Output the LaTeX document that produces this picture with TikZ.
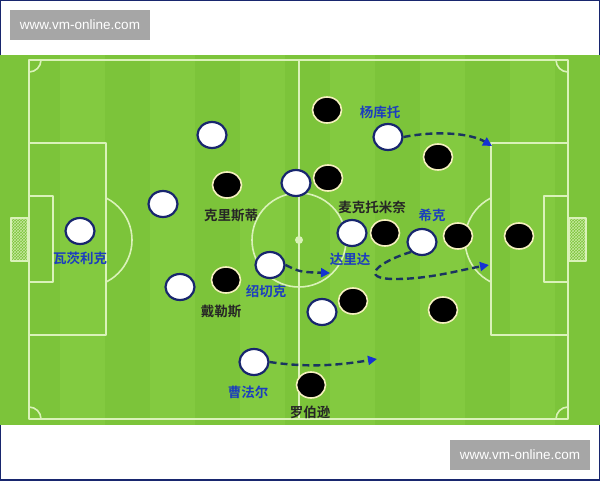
\documentclass[tikz,border=0pt]{standalone}
\usepackage{fontspec}
\newfontfamily\cjk[BoldFont={Noto Sans CJK SC Bold}]{Noto Sans CJK SC}
\newfontfamily\urlfont{Liberation Sans}
\usetikzlibrary{shapes.geometric,arrows.meta,patterns}
\definecolor{pitch}{RGB}{124,196,58}
\definecolor{stripe}{RGB}{131,202,64}
\definecolor{chalk}{RGB}{218,242,185}
\definecolor{navy}{RGB}{24,38,110}
\definecolor{runline}{RGB}{26,52,96}
\definecolor{tipblue}{RGB}{20,50,210}
\definecolor{namblue}{RGB}{28,62,190}
\definecolor{cream}{RGB}{245,240,190}
\definecolor{banner}{RGB}{166,166,166}
\begin{document}
\begin{tikzpicture}[x=1pt,y=-1pt,line join=round,line cap=round,
	white/.style={ellipse,fill=white,draw=navy,line width=2.2pt,minimum width=29pt,minimum height=26pt,inner sep=0pt},
	black/.style={ellipse,fill=black,draw=cream,line width=1.6pt,minimum width=29pt,minimum height=26pt,inner sep=0pt},
	blue name/.style={font=\cjk\bfseries\fontsize{13.5}{15}\selectfont,text=namblue,inner sep=0pt},
	dark name/.style={font=\cjk\bfseries\fontsize{13.5}{15}\selectfont,text=black!85,inner sep=0pt},
	run/.style={draw=runline,line width=2.4pt,dash pattern=on 7pt off 4pt,line cap=butt,
		-{Triangle[length=9pt,width=9pt,color=tipblue]}},
	chalkline/.style={draw=chalk,line width=1.6pt},
	url/.style={fill=banner,text=white,font=\urlfont\fontsize{13.5}{15}\selectfont,minimum width=140pt,minimum height=30pt,inner sep=0pt}]
	\useasboundingbox (0,0) rectangle (600,480);
	\fill[white] (0,0) rectangle (600,480);
	% grass
	\fill[pitch] (0,55) rectangle (600,425);
	\foreach \x in {60,150,240,330,420,510}
		\fill[stripe] (\x,55) rectangle (\x+45,425);
	% markings
	\draw[chalkline] (29,60) rectangle (568,419);
	\draw[chalkline] (299,60) -- (299,419);
	\draw[chalkline] (299,240) circle (47);
	\fill[chalk] (299,240) circle (4);
	\draw[chalkline] (29,143) rectangle (106,335);
	\draw[chalkline] (29,196) rectangle (53,282);
	\draw[chalkline] (491,143) rectangle (568,335);
	\draw[chalkline] (544,196) rectangle (568,282);
	\begin{scope}
		\clip (106,55) rectangle (299,425);
		\draw[chalkline] (85,240) circle (47);
	\end{scope}
	\begin{scope}
		\clip (299,55) rectangle (491,425);
		\draw[chalkline] (512,240) circle (47);
	\end{scope}
	\begin{scope}
		\clip (29,60) rectangle (568,419);
		\foreach \cx/\cy in {29/60,568/60,29/419,568/419}
			\draw[chalkline] (\cx,\cy) circle (12);
	\end{scope}
	% goals
	\draw[chalk,line width=2pt,pattern=crosshatch,pattern color=chalk!80!pitch] (11,218) rectangle (28,261);
	\draw[chalk,line width=2pt,pattern=crosshatch,pattern color=chalk!80!pitch] (569,218) rectangle (586,261);
	% players in white
	\node[white] (vaclik) at (80,231) {};
	\node[white] (w1) at (212,135) {};
	\node[white] (w2) at (163,204) {};
	\node[white] (w3) at (180,287) {};
	\node[white] (w4) at (296,183) {};
	\node[white] (soucek) at (270,265) {};
	\node[white] (coufal) at (254,362) {};
	\node[white] (w5) at (322,312) {};
	\node[white] (darida) at (352,233) {};
	\node[white] (jankto) at (388,137) {};
	\node[white] (schick) at (422,242) {};
	% players in black
	\node[black] (christie) at (227,185) {};
	\node[black] (dykes) at (226,280) {};
	\node[black] (b1) at (327,110) {};
	\node[black] (b2) at (328,178) {};
	\node[black] (mctominay) at (385,233) {};
	\node[black] (b3) at (438,157) {};
	\node[black] (b4) at (458,236) {};
	\node[black] (b5) at (519,236) {};
	\node[black] (b6) at (353,301) {};
	\node[black] (b7) at (443,310) {};
	\node[black] (robertson) at (311,385) {};
	% names
	\node[blue name] at (80,258) {瓦茨利克};
	\node[dark name] at (231,215) {克里斯蒂};
	\node[blue name] at (380,112) {杨库托};
	\node[dark name] at (372,207) {麦克托米奈};
	\node[blue name] at (432,215) {希克};
	\node[blue name] at (266,291) {绍切克};
	\node[dark name] at (221,311) {戴勒斯};
	\node[blue name] at (350,259) {达里达};
	\node[blue name] at (248,392) {曹法尔};
	\node[dark name] at (310,412) {罗伯逊};
	% runs
	\path
	(492,146)coordinate(jt)
	(330,273)coordinate(st)
	(489,265)coordinate(sh)
	(377,359)coordinate(ct)
	;
	\draw[run] (jankto.east) .. controls (440,130) and (472,134) .. (jt);
	\draw[run] (soucek.east) .. controls (300,272) .. (st);
	\draw[run] (schick.south west) .. controls (378,262) and (358,279) .. (395,279) .. controls (430,279) and (460,270) .. (sh);
	\draw[run] (coufal.east) .. controls (310,368) and (340,365) .. (ct);
	% banners
	\node[url] (topurl) at (80,25) {www.vm-online.com};
	\node[url] (boturl) at (520,455) {www.vm-online.com};
\end{tikzpicture}
\end{document}
